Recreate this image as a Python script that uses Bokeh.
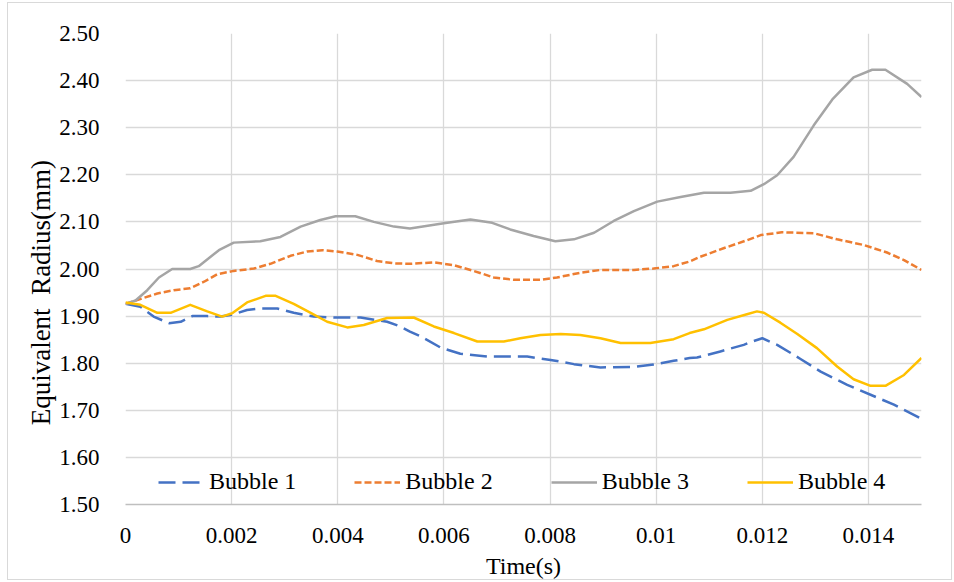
from bokeh.plotting import figure
from bokeh.models import Legend, LegendItem, FixedTicker, ColumnDataSource
from bokeh.embed import file_html
from bokeh.resources import INLINE

# ---- data ----
t1 = [0, 0.00028, 0.00053, 0.00082, 0.00104, 0.00126, 0.00154, 0.00179, 0.00201, 0.00229,
      0.00254, 0.00286, 0.00317, 0.00355, 0.00392, 0.00443, 0.00493, 0.00518, 0.00536, 0.00556,
      0.00594, 0.00631, 0.00682, 0.00757, 0.00801, 0.00845, 0.00895, 0.00958, 0.00995, 0.01033,
      0.01063, 0.01077, 0.01121, 0.01165, 0.01181, 0.0120, 0.01228, 0.01272, 0.0131, 0.0136,
      0.01404, 0.01448, 0.015]
r1 = [1.926, 1.920, 1.899, 1.885, 1.888, 1.900, 1.900, 1.899, 1.903, 1.913,
      1.916, 1.916, 1.907, 1.899, 1.897, 1.897, 1.888, 1.878, 1.867, 1.857,
      1.833, 1.820, 1.814, 1.814, 1.807, 1.798, 1.791, 1.792, 1.797, 1.805,
      1.811, 1.812, 1.825, 1.839, 1.846, 1.853, 1.839, 1.809, 1.782, 1.754,
      1.733, 1.712, 1.682]

t2 = [0, 0.00022, 0.0006, 0.00091, 0.00122, 0.00148, 0.00173, 0.00204, 0.00242, 0.00273,
      0.00311, 0.00342, 0.00371, 0.00399, 0.00437, 0.00474, 0.00506, 0.00536, 0.00581, 0.00619,
      0.00656, 0.00694, 0.00732, 0.00782, 0.00813, 0.00857, 0.00895, 0.00958, 0.00995, 0.01033,
      0.01063, 0.01083, 0.01127, 0.01171, 0.01197, 0.01237, 0.01297, 0.01341, 0.01391, 0.01435,
      0.01467, 0.015]
r2 = [1.926, 1.934, 1.948, 1.955, 1.959, 1.973, 1.989, 1.996, 2.001, 2.011,
      2.028, 2.037, 2.040, 2.037, 2.030, 2.017, 2.012, 2.011, 2.014, 2.008,
      1.996, 1.982, 1.977, 1.977, 1.982, 1.992, 1.998, 1.998, 2.001, 2.006,
      2.016, 2.026, 2.044, 2.061, 2.072, 2.078, 2.076, 2.063, 2.051, 2.035,
      2.019, 1.998]

t3 = [0, 0.00019, 0.00041, 0.00063, 0.00088, 0.00122, 0.00138, 0.00176, 0.00204, 0.00254,
      0.00292, 0.0033, 0.00367, 0.00396, 0.00433, 0.00468, 0.00506, 0.00536, 0.006, 0.0065,
      0.00691, 0.00725, 0.00769, 0.0081, 0.00845, 0.00883, 0.0092, 0.00958, 0.01002, 0.01046,
      0.0109, 0.0114, 0.01178, 0.01203, 0.01228, 0.01259, 0.01297, 0.01332, 0.01372, 0.01407,
      0.01432, 0.01473, 0.015]
r3 = [1.926, 1.933, 1.955, 1.982, 2.000, 2.000, 2.006, 2.040, 2.056, 2.059,
      2.068, 2.090, 2.104, 2.112, 2.112, 2.100, 2.090, 2.086, 2.097, 2.105,
      2.098, 2.084, 2.070, 2.059, 2.063, 2.077, 2.102, 2.123, 2.143, 2.153,
      2.162, 2.162, 2.166, 2.180, 2.199, 2.238, 2.305, 2.360, 2.407, 2.423,
      2.423, 2.393, 2.365]

t4 = [0, 0.00028, 0.0006, 0.00085, 0.00122, 0.00154, 0.00182, 0.00201, 0.00229, 0.00264,
      0.00283, 0.00317, 0.00349, 0.0038, 0.00418, 0.00449, 0.00493, 0.00543, 0.00581, 0.00619,
      0.00663, 0.00713, 0.00744, 0.00782, 0.0082, 0.00857, 0.00895, 0.00933, 0.00989, 0.01033,
      0.01063, 0.0109, 0.01134, 0.01171, 0.0119, 0.01203, 0.01234, 0.01266, 0.01303, 0.01341,
      0.01372, 0.01404, 0.01432, 0.01467, 0.015]
r4 = [1.929, 1.924, 1.907, 1.907, 1.924, 1.910, 1.899, 1.906, 1.929, 1.943,
      1.943, 1.926, 1.907, 1.888, 1.876, 1.881, 1.896, 1.897, 1.878, 1.864,
      1.846, 1.846, 1.853, 1.860, 1.862, 1.860, 1.853, 1.843, 1.843, 1.851,
      1.864, 1.872, 1.892, 1.904, 1.910, 1.907, 1.886, 1.862, 1.832, 1.793,
      1.766, 1.752, 1.752, 1.775, 1.811]

series_names = ["Bubble 1", "Bubble 2", "Bubble 3", "Bubble 4"]
x_ticks = [0, 0.002, 0.004, 0.006, 0.008, 0.01, 0.012, 0.014]
x_tick_labels = ["0", "0.002", "0.004", "0.006", "0.008", "0.01", "0.012", "0.014"]
y_ticks = [1.5, 1.6, 1.7, 1.8, 1.9, 2.0, 2.1, 2.2, 2.3, 2.4, 2.5]
y_tick_labels = ["1.50", "1.60", "1.70", "1.80", "1.90", "2.00", "2.10", "2.20", "2.30", "2.40", "2.50"]

FONT = "Liberation Serif"
# trailing no-break spaces shift the visible y title slightly down, as in the reference
Y_TITLE = "Equivalent\u00a0 Radius(mm)" + "\u00a0" * 7

p = figure(width=945, height=578, output_backend="svg", toolbar_location=None,
           x_range=(0, 0.015), y_range=(1.5, 2.5),
           min_border_left=117, min_border_right=32, min_border_top=30, min_border_bottom=76,
           x_axis_label="Time(s)", y_axis_label=Y_TITLE)
p.styles = {"border": "1px solid #d9d9d9", "margin-top": "2px", "margin-left": "7px"}
p.outline_line_color = None
p.background_fill_color = "white"
p.border_fill_color = "white"

p.xaxis.ticker = FixedTicker(ticks=x_ticks)
p.yaxis.ticker = FixedTicker(ticks=y_ticks)
p.xaxis.major_label_overrides = {v: s for v, s in zip(x_ticks, x_tick_labels)}
p.yaxis.major_label_overrides = {v: s for v, s in zip(y_ticks, y_tick_labels)}

for ax in (p.xaxis[0], p.yaxis[0]):
    ax.major_tick_line_color = None
    ax.minor_tick_line_color = None
    ax.major_label_text_font = FONT
    ax.major_label_text_font_size = "23px"
    ax.major_label_text_color = "#000000"
    ax.axis_label_text_font = FONT
    ax.axis_label_text_font_style = "normal"
    ax.axis_label_text_color = "#000000"
p.xaxis.axis_label_text_font_size = "24px"
p.yaxis.axis_label_text_font_size = "27px"
p.xaxis.axis_line_color = "#bfbfbf"
p.xaxis.axis_line_width = 1.5
p.yaxis.axis_line_color = None
p.xaxis.major_label_standoff = 17
p.yaxis.major_label_standoff = 20
p.xaxis.axis_label_standoff = 7
p.yaxis.axis_label_standoff = 0

p.xgrid.grid_line_color = "#d9d9d9"
p.ygrid.grid_line_color = "#d9d9d9"
p.xgrid.grid_line_width = 1.3
p.ygrid.grid_line_width = 1.3

colors = ["#4472C4", "#ED7D31", "#A5A5A5", "#FFC000"]
dashes = ["17 7", "7 3", "solid", "solid"]
data = [(t1, r1), (t2, r2), (t3, r3), (t4, r4)]
renderers = []
for (tt, rr), c, d in zip(data, colors, dashes):
    src = ColumnDataSource(dict(t=tt, r=rr))
    renderers.append(p.line("t", "r", source=src, line_color=c, line_width=2.5,
                            line_dash=d, line_join="round"))

legend = Legend(items=[LegendItem(label=n, renderers=[r]) for n, r in zip(series_names, renderers)],
                orientation="horizontal", location=(33, 9),
                background_fill_alpha=0, border_line_alpha=0,
                padding=0, margin=0, spacing=58, glyph_width=46, label_standoff=5,
                label_text_font=FONT, label_text_font_size="24px", label_text_color="#000000")
p.add_layout(legend, "center")

open("out.html", "w").write(file_html(p, INLINE))
